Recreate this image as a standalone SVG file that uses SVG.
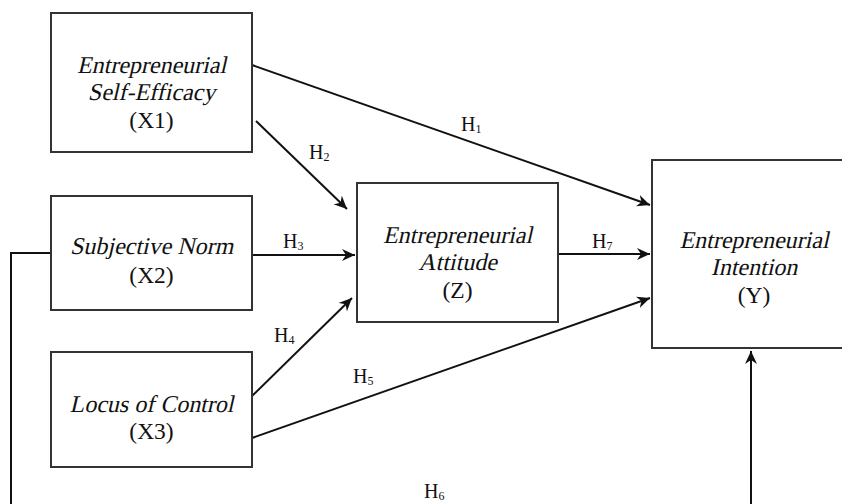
<svg xmlns="http://www.w3.org/2000/svg" width="842" height="504" viewBox="0 0 842 504">
<style>
.box{fill:#fff;stroke:#333;stroke-width:2}
.t{font-family:"Liberation Serif","Times New Roman",serif;font-size:23.5px;fill:#111;text-anchor:middle}
.i{font-size:24px}
.h{font-family:"Liberation Serif","Times New Roman",serif;font-size:20px;fill:#111}
.s{font-size:12px}
.c{fill:none;stroke:#111;stroke-width:2}
</style>
<defs>
<marker id="ah" markerUnits="userSpaceOnUse" markerWidth="14" markerHeight="12" refX="13" refY="6" orient="auto">
<path d="M0,0 L13,6 L0,12 L4,6 z" fill="#111"/>
</marker>
</defs>
<g id="connectors">
<line class="c" x1="252" y1="65" x2="650" y2="205" marker-end="url(#ah)"/>
<line class="c" x1="256" y1="121" x2="347" y2="209" marker-end="url(#ah)"/>
<line class="c" x1="252" y1="255" x2="355" y2="255" marker-end="url(#ah)"/>
<line class="c" x1="252" y1="396" x2="352" y2="298" marker-end="url(#ah)"/>
<line class="c" x1="252" y1="438" x2="650" y2="298" marker-end="url(#ah)"/>
<line class="c" x1="558" y1="254" x2="650" y2="254" marker-end="url(#ah)"/>
<polyline class="c" points="51,253 11,253 11,520 751,520 751,351" marker-end="url(#ah)"/>
<text class="h" x="461" y="131">H<tspan class="s" dy="2">1</tspan></text>
<text class="h" x="309" y="159">H<tspan class="s" dy="2">2</tspan></text>
<text class="h" x="283" y="248">H<tspan class="s" dy="2">3</tspan></text>
<text class="h" x="274" y="342">H<tspan class="s" dy="2">4</tspan></text>
<text class="h" x="353" y="383">H<tspan class="s" dy="2">5</tspan></text>
<text class="h" x="424" y="498">H<tspan class="s" dy="2">6</tspan></text>
<text class="h" x="592" y="248">H<tspan class="s" dy="2">7</tspan></text>
</g>
<g id="X1">
<rect class="box" x="51" y="13" width="201" height="139"/>
<text class="t i" transform="translate(151.5,73) skewX(-13)">Entrepreneurial</text>
<text class="t i" transform="translate(151.5,100) skewX(-13)">Self-Efficacy</text>
<text class="t" x="151.5" y="128">(X1)</text>
</g>
<g id="X2">
<rect class="box" x="51" y="196" width="201" height="114"/>
<text class="t i" transform="translate(151.5,254) skewX(-13)">Subjective Norm</text>
<text class="t" x="151.5" y="283">(X2)</text>
</g>
<g id="X3">
<rect class="box" x="51" y="352" width="201" height="115"/>
<text class="t i" transform="translate(151.5,412) skewX(-13)">Locus of Control</text>
<text class="t" x="151.5" y="439">(X3)</text>
</g>
<g id="Z">
<rect class="box" x="357" y="183" width="201" height="139"/>
<text class="t i" transform="translate(457.5,243) skewX(-13)">Entrepreneurial</text>
<text class="t i" transform="translate(457.5,270) skewX(-13)">Attitude</text>
<text class="t" x="457.5" y="298">(Z)</text>
</g>
<g id="Y">
<rect class="box" x="652" y="160" width="200" height="188"/>
<text class="t i" transform="translate(754,248) skewX(-13)">Entrepreneurial</text>
<text class="t i" transform="translate(754,275) skewX(-13)">Intention</text>
<text class="t" x="754" y="303">(Y)</text>
</g>
</svg>
